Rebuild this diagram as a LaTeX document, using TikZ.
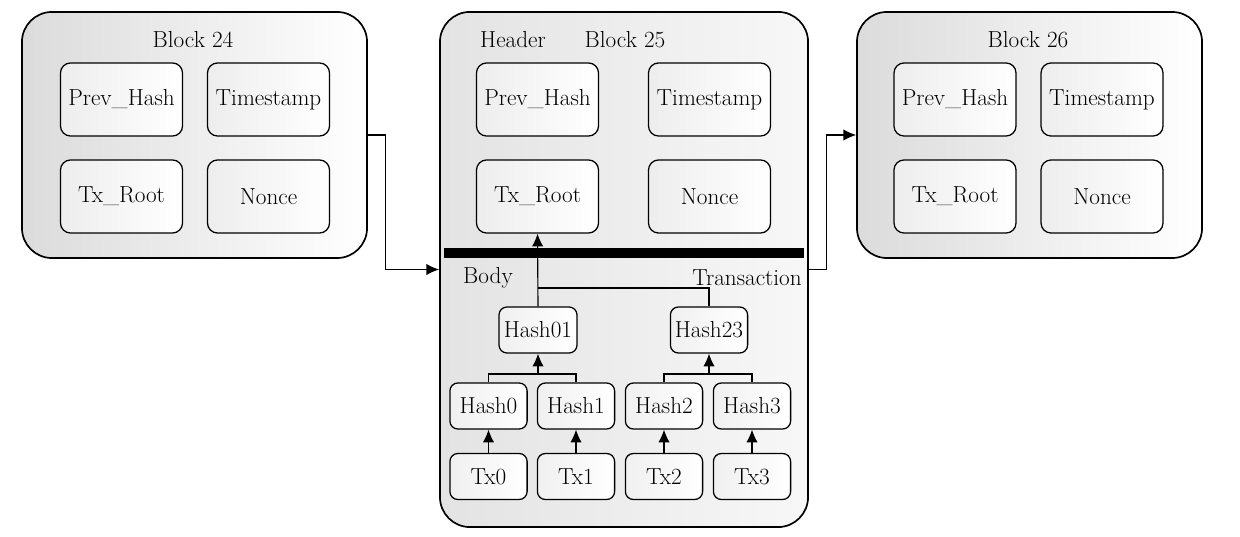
\documentclass[tikz,border=0pt]{standalone}
\usetikzlibrary{arrows.meta}
\tikzset{%
  block/.style={draw, line width=1.2pt, rounded corners=0.75cm, left color=gray!28, right color=white, inner sep=0pt},% whole block
  field/.style={draw, line width=0.9pt, rounded corners=0.25cm, left color=gray!14, right color=white,
    minimum width=3.05cm, minimum height=1.825cm, inner sep=0pt},% header field
  leaf/.style={draw, line width=0.9pt, rounded corners=0.2cm, left color=gray!12, right color=white,
    minimum width=1.93cm, minimum height=1.15cm, inner sep=0pt},% merkle tree box
  link/.style={line width=0.8pt, -{Latex[length=9pt,width=8pt]}},% arrow
  tree/.style={line width=0.8pt}% plain line
}
\newcommand*{\fields}[3]{
  \node[field] (#1prev) at (#2, 99.5) {Prev\_Hash};
  \node[field] (#1time) at (#3, 99.5) {Timestamp};
  \node[field] (#1txr) at (#2, 196.5) {Tx\_Root};
  \node[field] (#1nonce) at (#3, 196.5) {Nonce};
}
\begin{document}
\begin{tikzpicture}[x=0.025cm, y=-0.025cm, font=\fontsize{16.5}{19}\selectfont]
\useasboundingbox (0,0) rectangle (1240,537);
\node[block, minimum width=8.625cm, minimum height=6.15cm] (b24) at (194.5, 135) {};
\node[block, left color=gray!22, right color=gray!6, minimum width=9.2cm, minimum height=12.875cm] (b25) at (624, 269.5) {};
\node[block, minimum width=8.625cm, minimum height=6.15cm] (b26) at (1029.5, 135) {};
\node (t24) at (193, 40) {Block 24};
\node (hd) at (513, 40) {Header};
\node (t25) at (625, 40) {Block 25};
\node (t26) at (1028, 40) {Block 26};
\fields{b24}{121.5}{268.5}
\fields{b25}{537.5}{709.5}
\fields{b26}{955}{1102}
\node[fill=black, minimum width=9cm, minimum height=0.25cm, inner sep=0pt] (bar) at (624, 253) {};
\node (body) at (488, 278) {Body};
\node (trans) at (747, 278) {Transaction};
% merkle tree
\node[leaf, minimum width=1.95cm] (h01) at (538, 330) {Hash01};
\node[leaf] (h23) at (709, 330) {Hash23};
\node[leaf] (h0) at (488.5, 406) {Hash0};
\node[leaf] (h1) at (576, 406) {Hash1};
\node[leaf] (h2) at (664, 406) {Hash2};
\node[leaf] (h3) at (752, 406) {Hash3};
\node[leaf] (tx0) at (488.5, 476.5) {Tx0};
\node[leaf] (tx1) at (576, 476.5) {Tx1};
\node[leaf] (tx2) at (664, 476.5) {Tx2};
\node[leaf] (tx3) at (752, 476.5) {Tx3};
\coordinate (j01) at (538, 374);
\coordinate (j23) at (709, 374);
\coordinate (jroot) at (538, 288);
\draw[link] (tx0) -- (h0);
\draw[link] (tx1) -- (h1);
\draw[link] (tx2) -- (h2);
\draw[link] (tx3) -- (h3);
\draw[tree] (h0.north) |- (j01) -| (h1.north);
\draw[tree] (h2.north) |- (j23) -| (h3.north);
\draw[link] (j01) -- (h01);
\draw[link] (j23) -- (h23);
\draw[tree] (h23.north) |- (jroot);
\draw[link] (h01.north) -- (b25txr.south);
% chain
\draw[link] (b24.east) -- ++(18,0) |- (b25.west);
\draw[link] (b25.east) -- ++(18,0) |- (b26.west);
\end{tikzpicture}
\end{document}
